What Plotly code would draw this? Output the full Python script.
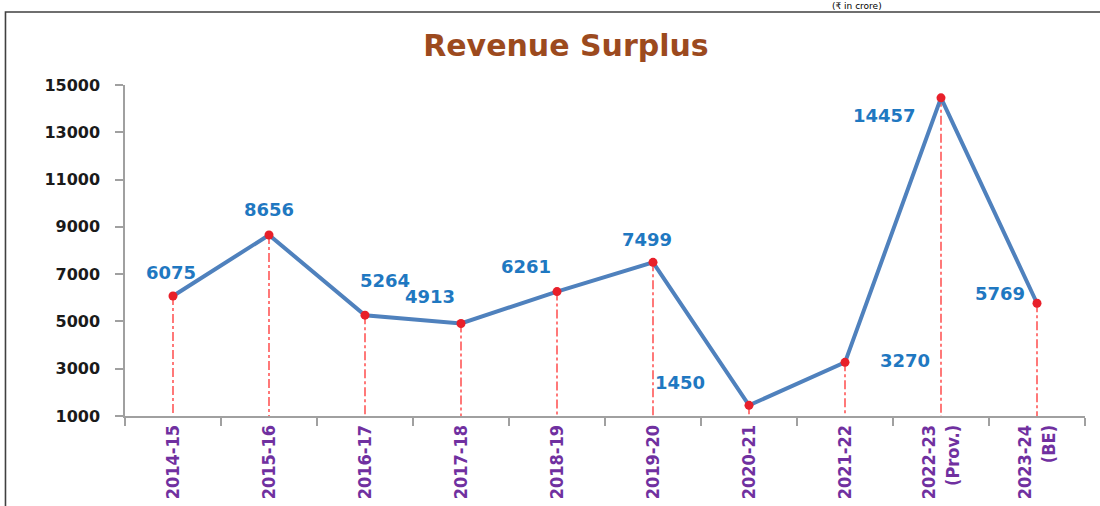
import plotly.graph_objects as go

years = ["2014-15", "2015-16", "2016-17", "2017-18", "2018-19", "2019-20",
         "2020-21", "2021-22", "2022-23<br>(Prov.)", "2023-24<br>(BE)"]
surplus = [6075, 8656, 5264, 4913, 6261, 7499, 1450, 3270, 14457, 5769]
y_ticks = [1000, 3000, 5000, 7000, 9000, 11000, 13000, 15000]
y_base = 1000

# label offsets in pixels (x, y) relative to each point
label_dx = [-2, 0, 20, -31, -31, -6, -69, 60, -57, -37]
label_dy = [24, 25, 35, 27, 25, 23, 23, 2, -18, 10]

fig = go.Figure()

# red dash-dot drop lines
dx, dy = [], []
for c, v in zip(years, surplus):
    dx += [c, c, None]
    dy += [v, y_base, None]
fig.add_trace(go.Scatter(x=dx, y=dy, mode="lines",
                         line=dict(color="#FF2020", width=1.2, dash="dashdot"),
                         hoverinfo="skip", showlegend=False, cliponaxis=False))

fig.add_trace(go.Scatter(x=years, y=surplus, mode="lines+markers",
                         line=dict(color="#4F81BD", width=4),
                         marker=dict(color="#E8202A", size=9,
                                     line=dict(color="#E8202A", width=0)),
                         showlegend=False, cliponaxis=False))

for c, v, ddx, ddy in zip(years, surplus, label_dx, label_dy):
    fig.add_annotation(x=c, y=v, text=f"<b>{v}</b>", showarrow=False,
                       xshift=ddx, yshift=ddy,
                       font=dict(family="DejaVu Sans, Verdana, sans-serif",
                                 size=18, color="#1F78C1"))

fig.add_annotation(xref="paper", yref="paper", x=0.763, y=1.2568,
                   xanchor="center", yanchor="top", showarrow=False,
                   text="(₹ in crore)", borderpad=0,
                   font=dict(family="DejaVu Sans, sans-serif", size=9, color="#000000"))

# outer frame
fig.add_shape(type="path", xref="paper", yref="paper",
              path="M -0.1245,-1 L -0.1245,1.2205 L 1.05,1.2205",
              line=dict(color="#404040", width=1.6))

fig.update_layout(
    width=1100, height=506,
    margin=dict(l=125, r=15, t=85, b=90),
    paper_bgcolor="white", plot_bgcolor="white",
    title=dict(text="<b>Revenue Surplus</b>", x=0.5145, xanchor="center",
               y=0.911, yanchor="middle",
               font=dict(family="DejaVu Sans, Verdana, sans-serif", size=30, color="#9C4A1E")),
    xaxis=dict(type="category", tickangle=-90, showgrid=False, zeroline=False,
               automargin=False,
               showline=True, linecolor="#A0A0A0", linewidth=1.5,
               ticks="outside", tickson="boundaries", ticklen=8, tickcolor="#A0A0A0",
               tickwidth=1.5,
               tickfont=dict(family="Liberation Sans Narrow, DejaVu Sans Condensed, Arial Narrow, sans-serif",
                             size=18, color="#7030A0", weight="bold"),
               range=[-0.5, 9.5]),
    yaxis=dict(range=[1000, 15000], tickvals=y_ticks, ticktext=[str(t) for t in y_ticks],
               showgrid=False, zeroline=False, automargin=False,
               showline=True, linecolor="#A0A0A0", linewidth=1.5,
               ticks="outside", ticklen=8, tickcolor="#A0A0A0", tickwidth=1.5,
               ticklabelstandoff=12,
               tickfont=dict(family="DejaVu Sans, Verdana, sans-serif", size=16,
                             color="#1A1A1A", weight="bold")),
)

fig.write_html("out.html", config={"displayModeBar": False},
               post_script="document.body.style.margin='0';document.body.style.overflow='hidden';")
